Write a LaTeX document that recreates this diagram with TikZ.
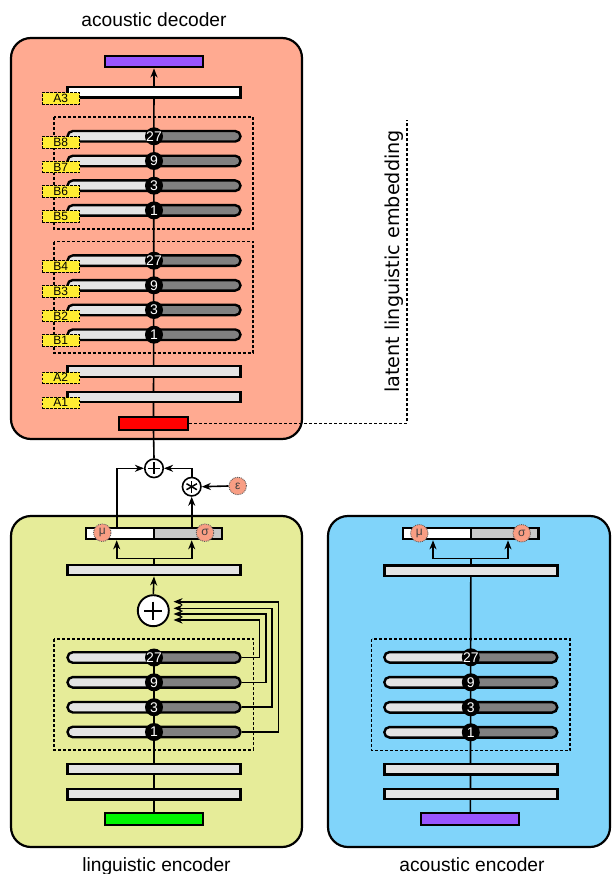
\documentclass[tikz,border=0pt]{standalone}
\usepackage{fontspec}
\setmainfont{Liberation Sans}
\newfontfamily\dejavu{DejaVu Sans}
\usetikzlibrary{arrows.meta,calc}
\pgfdeclarelayer{bg}
\pgfdeclarelayer{wires}
\pgfsetlayers{bg,wires,main}

\definecolor{decfill}{RGB}{255,170,145}
\definecolor{lingfill}{RGB}{230,236,153}
\definecolor{acfill}{RGB}{128,212,250}
\definecolor{barL}{RGB}{228,228,228}
\definecolor{pillR}{RGB}{128,128,128}
\definecolor{sigR}{RGB}{200,200,200}
\definecolor{tagY}{RGB}{255,236,51}
\definecolor{gaussC}{RGB}{248,158,132}
\definecolor{specP}{RGB}{153,85,255}
\definecolor{embR}{RGB}{255,0,0}
\definecolor{phonG}{RGB}{0,245,0}

% one dilated residual block: pill plus its dilation badge
\newcommand\pillrow[4]{%
  \node[pillbox] (#1) at (#2,#3) {};
  \node[numc] (#1n) at (#1.center) {\makebox[0pt]{#4}};}
% dashed layer tag at the left of the decoder
\newcommand\tagbox[3]{\node[tag] (#1) at (60.8,#2) {#3};}

\tikzset{
  panel/.style={draw, line width=2.2pt, rounded corners=20pt, inner sep=0pt},
  grp/.style={draw, dash pattern=on 3pt off 2pt, line width=1.1pt},
  barbox/.style={draw, line width=2.4pt, fill=barL, minimum width=173pt,
    minimum height=10.5pt, inner sep=0pt},
  pillbox/.style={barbox, rounded corners=5.25pt,
    path picture={\fill[pillR] (path picture bounding box.north)
      rectangle (path picture bounding box.south east);}},
  numc/.style={circle, fill=black, text=white, inner sep=0pt,
    minimum size=18pt, font=\fontsize{14}{14}\selectfont},
  tag/.style={draw, dash pattern=on 2.5pt off 1.5pt, line width=1pt,
    fill=tagY, minimum width=37.5pt, minimum height=11.5pt, inner sep=0pt,
    font=\fontsize{12}{12}\selectfont, text=black},
  msbar/.style={draw, line width=2.4pt, fill=white, minimum width=135.5pt,
    minimum height=10.8pt, inner sep=0pt,
    path picture={\fill[sigR] (path picture bounding box.north)
      rectangle (path picture bounding box.south east);
      \draw[line width=2pt] (path picture bounding box.north)
      -- (path picture bounding box.south);}},
  gauss/.style={circle, fill=gaussC, draw=black!65, densely dotted,
    line width=0.9pt, minimum size=17.5pt, inner sep=0pt,
    font=\fontsize{12}{12}\selectfont, text=black!75},
  feat/.style={draw, line width=2pt, minimum width=98pt, minimum height=11.5pt,
    inner sep=0pt},
  op/.style={circle, draw, fill=white, line width=1.6pt, minimum size=18.5pt,
    inner sep=0pt},
  conn/.style={line width=1.6pt},
  arr/.style={conn, -{Stealth[length=9pt,width=7pt,inset=2.8pt]}},
  latent/.style={line width=1.1pt, dash pattern=on 3pt off 2pt},
  title/.style={anchor=base, font=\fontsize{19.2}{22}\selectfont}
}

\begin{document}
\begin{tikzpicture}[x=1pt,y=-1pt]
\useasboundingbox (0,0) rectangle (613,874);

% ---------- titles ----------
\node[title] (tdec) at (154,26.3) {acoustic decoder};
\node[title] (tling) at (156.5,871) {linguistic encoder};
\node[title] (tac) at (472,871) {acoustic encoder};
\node[anchor=base, rotate=90, font=\dejavu\fontsize{19.2}{22}\selectfont]
  (tlat) at (399.5,261.5) {latent linguistic embedding};

% ---------- panels ----------
\begin{pgfonlayer}{bg}
  \node[panel, fill=decfill, minimum width=291pt, minimum height=401pt] (dec) at (156.5,238.5) {};
  \node[panel, fill=lingfill, minimum width=291pt, minimum height=331pt] (ling) at (156.5,681.5) {};
  \node[panel, fill=acfill, minimum width=282pt, minimum height=331pt] (acu) at (469,681.5) {};
  \draw[grp] (54,117) rectangle (253,229);
  \draw[grp] (54,241.7) rectangle (253,353);
  \draw[grp] (54,639) rectangle (253.3,750);
  \draw[grp] (371.7,639) rectangle (570,750.7);
\end{pgfonlayer}

% ---------- acoustic decoder ----------
\node[feat, fill=specP] (dout) at (154,61.7) {};
\node[barbox, fill=white] (da3) at (154,92.4) {};
\pillrow{db8}{154}{136.3}{27}
\pillrow{db7}{154}{161}{9}
\pillrow{db6}{154}{185.7}{3}
\pillrow{db5}{154}{210.4}{1}
\pillrow{db4}{154}{260.7}{27}
\pillrow{db3}{154}{285.3}{9}
\pillrow{db2}{154}{310}{3}
\pillrow{db1}{154}{334.7}{1}
\node[barbox] (da2) at (154,371.5) {};
\node[barbox] (da1) at (154,397) {};
\node[feat, fill=embR, minimum width=69pt, minimum height=12.7pt] (dred) at (153.5,423.3) {};

\tagbox{ta3}{98.5}{A3}
\tagbox{tb8}{142.3}{B8}
\tagbox{tb7}{167}{B7}
\tagbox{tb6}{191.7}{B6}
\tagbox{tb5}{216.4}{B5}
\tagbox{tb4}{266.7}{B4}
\tagbox{tb3}{291.3}{B3}
\tagbox{tb2}{316}{B2}
\tagbox{tb1}{340.7}{B1}
\tagbox{ta2}{377.8}{A2}
\tagbox{ta1}{402.8}{A1}

% ---------- sampling ----------
\node[op] (dplus) at (154,468.3) {};
\draw[line width=1.6pt] ($(dplus.center)+(-6,0)$) -- ($(dplus.center)+(6,0)$);
\draw[line width=1.6pt] ($(dplus.center)+(0,-6)$) -- ($(dplus.center)+(0,6)$);
\node[op] (dstar) at (191.7,486.7) {};
\foreach \a in {90,30,150}
  \draw[line width=1.5pt] ($(dstar.center)+(\a:6)$) -- ($(dstar.center)+(\a+180:6)$);
\node[gauss] (eps) at (237.7,486) {ε};

% ---------- linguistic encoder ----------
\node[msbar] (lms) at (154,533.3) {};
\node[gauss] (lmu) at (102.3,532.7) {μ};
\node[gauss] (lsg) at (205,532.7) {σ};
\node[barbox] (lbar) at (154,570) {};
\node[op, line width=1.9pt, minimum size=31pt] (lplus) at (153.3,610.7) {};
\draw[line width=1.9pt] ($(lplus.center)+(-9,0)$) -- ($(lplus.center)+(9,0)$);
\draw[line width=1.9pt] ($(lplus.center)+(0,-9)$) -- ($(lplus.center)+(0,9)$);
\pillrow{lp27}{154}{657.5}{27}
\pillrow{lp9}{154}{682.3}{9}
\pillrow{lp3}{154}{707.2}{3}
\pillrow{lp1}{154}{732}{1}
\node[barbox] (lb1) at (154,769) {};
\node[barbox] (lb2) at (154,794.2) {};
\node[feat, fill=phonG] (lin) at (154,819) {};

% ---------- acoustic encoder ----------
\node[msbar] (ams) at (470.8,533.3) {};
\node[gauss] (amu) at (419.3,533.3) {μ};
\node[gauss] (asg) at (521.7,533.3) {σ};
\node[barbox] (abar) at (470.8,570.7) {};
\pillrow{ap27}{470.8}{657.3}{27}
\pillrow{ap9}{470.8}{682.3}{9}
\pillrow{ap3}{470.8}{707.3}{3}
\pillrow{ap1}{470.8}{732.3}{1}
\node[barbox] (ab1) at (470.8,769.3) {};
\node[barbox] (ab2) at (470.8,794) {};
\node[feat, fill=specP] (ain) at (470.4,819.2) {};

% ---------- bend points ----------
\coordinate (lat) at (407,120);
\coordinate (lmuTop) at (116.7,526.5);
\coordinate (lmuBot) at (116.7,540.3);
\coordinate (lsgTop) at (191.7,526.5);
\coordinate (lsgBot) at (191.7,540.3);
\coordinate (lsplit) at (154,558.3);
\coordinate (amuBot) at (433,540.3);
\coordinate (asgBot) at (508,540.3);
\coordinate (asplit) at (470.8,558.3);
\coordinate (s27) at (259.3,620);
\coordinate (s9) at (266,614);
\coordinate (s3) at (271.7,608.3);
\coordinate (s1) at (278.3,601.7);
\coordinate (t27) at (173.5,620);
\coordinate (t9) at (173.5,614);
\coordinate (t3) at (173.5,608.3);
\coordinate (t1) at (173.5,601.7);

% ---------- connectors ----------
\begin{pgfonlayer}{wires}
  \draw[arr] (dred.north) -- (dout.south);
  \draw[conn] (dplus.north) -- (dred.south);
  \draw[latent] (dred.east) -| (lat);
  \draw[arr] (lmuTop) |- (dplus.west);
  \draw[arr] (lsgTop) -- (dstar.south);
  \draw[arr] (dstar.north) |- (dplus.east);
  \draw[arr] (eps.west) -- (dstar.east);

  \draw[conn] (lbar.north) -- (lsplit);
  \draw[arr] (lsplit) -| (lmuBot);
  \draw[arr] (lsplit) -| (lsgBot);
  \draw[arr] (lplus.north) -- (lbar.south);
  \draw[conn] (lin.north) -- (lp27.center);
  \draw[arr] (lp27.east) -| (s27) -- (t27);
  \draw[arr] (lp9.east) -| (s9) -- (t9);
  \draw[arr] (lp3.east) -| (s3) -- (t3);
  \draw[arr] (lp1.east) -| (s1) -- (t1);

  \draw[conn] (ain.north) -- (abar.south);
  \draw[conn] (abar.north) -- (asplit);
  \draw[arr] (asplit) -| (amuBot);
  \draw[arr] (asplit) -| (asgBot);
\end{pgfonlayer}
\end{tikzpicture}
\end{document}
